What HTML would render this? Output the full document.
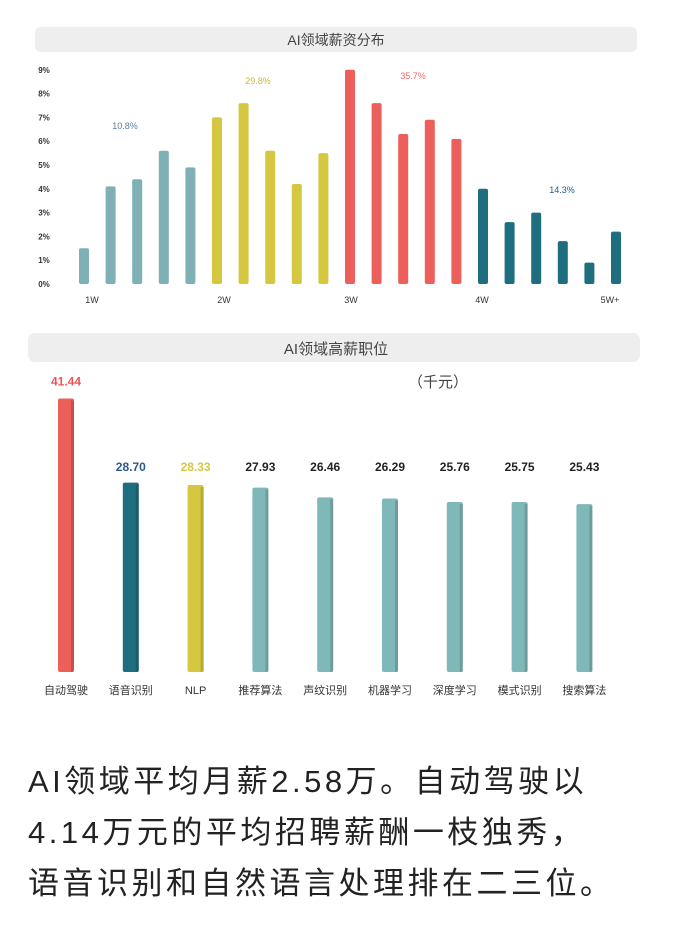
<!DOCTYPE html>
<html><head><meta charset="utf-8"><style>
body{margin:0;background:#fff;width:688px;height:934px;overflow:hidden;font-family:"Liberation Sans","Noto Sans CJK SC",sans-serif;}
.t{position:absolute;left:28px;font-size:31px;color:#222;white-space:nowrap;letter-spacing:3.5px;line-height:36px}
</style></head><body>
<svg id="c" width="688" height="730" style="position:absolute;left:0;top:0"></svg>
<div class="t" style="top:764px">AI领域平均月薪2.58万。自动驾驶以</div>
<div class="t" style="top:815px">4.14万元的平均招聘薪酬一枝独秀，</div>
<div class="t" style="top:866px">语音识别和自然语言处理排在二三位。</div>
<script>
const distValues=[1.5,4.1,4.4,5.6,4.9,7.0,7.6,5.6,4.2,5.5,9.0,7.6,6.3,6.9,6.1,4.0,2.6,3.0,1.8,0.9,2.2];
const distGroups=[0,0,0,0,0,1,1,1,1,1,2,2,2,2,2,3,3,3,3,3,3];
const yTicks=["0%","1%","2%","3%","4%","5%","6%","7%","8%","9%"];
const xTicks=["1W","2W","3W","4W","5W+"];
const groupLabels=["10.8%","29.8%","35.7%","14.3%"];
const jobNames=["自动驾驶","语音识别","NLP","推荐算法","声纹识别","机器学习","深度学习","模式识别","搜索算法"];
const jobValues=[41.44,28.70,28.33,27.93,26.46,26.29,25.76,25.75,25.43];
const jobColorIdx=[0,1,2,3,3,3,3,3,3];
const NS="http://www.w3.org/2000/svg",svg=document.getElementById('c');
function mk(tag,attrs,txt){const e=document.createElementNS(NS,tag);for(const k in attrs)e.setAttribute(k,attrs[k]);if(txt!==undefined)e.textContent=txt;svg.appendChild(e);return e;}
const gcol=["#7fb0b5","#d6c740","#ec5f5a","#1f6e80"];
let e=mk('rect',{x:35,y:27,width:602,height:25,rx:6,fill:'#eeeeee'});

e=mk('text',{x:336,y:45,'text-anchor':'middle','font-size':14,fill:'#444'},'AI领域薪资分布');

const y0=284,ppu=23.8;const ys=v=>y0-v*ppu;const xs=i=>84+i*26.6;
yTicks.forEach((t,i)=>{const el=mk('text',{x:44,y:ys(i)+3,'text-anchor':'middle','font-size':8,fill:'#333','font-weight':'bold'},t);
});
distValues.forEach((v,i)=>{const el=mk('rect',{x:xs(i)-5,y:ys(v),width:10,height:v*ppu,rx:2,fill:gcol[distGroups[i]]});
});
xTicks.forEach((t,i)=>{const el=mk('text',{x:[92,224,351,482,610][i],y:303,'text-anchor':'middle','font-size':9,fill:'#333'},t);
});
const gl=[[125,129,'#5a7fa0'],[258,84,'#c8b93a'],[413,79,'#e66'],[562,193,'#2a5a8a']];
groupLabels.forEach((t,i)=>{const el=mk('text',{x:gl[i][0],y:gl[i][1],'text-anchor':'middle','font-size':9,fill:gl[i][2]},t);
});
e=mk('rect',{x:28,y:333,width:612,height:29,rx:7,fill:'#eeeeee'});

e=mk('text',{x:336,y:354,'text-anchor':'middle','font-size':15,fill:'#444'},'AI领域高薪职位');

e=mk('text',{x:438,y:387,'text-anchor':'middle','font-size':15,fill:'#444'},'（千元）');

const b0=672,bp=6.6;const jx=i=>66+i*64.8;
const jcol=["#ec5f5a","#1f6e80","#d6c740","#7fb8b8"],jtxt=["#e55","#2a5a8a","#d6c740","#222"];
jobValues.forEach((v,i)=>{const x=jx(i),h=v*bp,c=jcol[jobColorIdx[i]];
let el=mk('rect',{x:x-8,y:b0-h,width:16,height:h,rx:2,fill:c});

el=mk('rect',{x:x+5,y:b0-h+2,width:3,height:h-2,fill:'rgba(0,0,0,0.15)'});

el=mk('text',{x:x,y:i==0?b0-h-13:471,'text-anchor':'middle','font-size':12,'font-weight':'bold',fill:jtxt[jobColorIdx[i]]},v.toFixed(2));

el=mk('text',{x:x,y:694,'text-anchor':'middle','font-size':11,fill:'#333'},jobNames[i]);
});
</script>
</body></html>
